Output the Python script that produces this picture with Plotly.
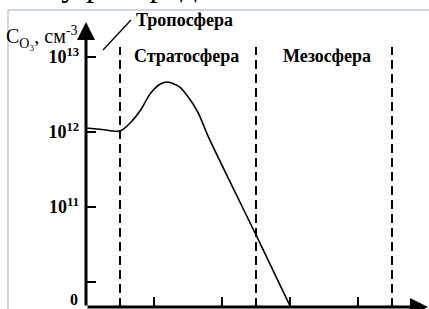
import plotly.graph_objects as go

# Altitude (km) and ozone concentration (cm^-3)
altitude_km = [0, 4, 10, 13, 16, 19, 22, 24, 27.5, 30.5, 33, 36, 50, 60]
ozone_cm3 = [1.13e12, 1.09e12, 1.03e12, 1.32e12, 1.95e12, 3.3e12, 4.4e12,
             4.65e12, 4.0e12, 2.75e12, 1.8e12, 8.6e11, 4.24e10, 4.8e9]

layer_bounds_km = [10, 50, 90]
y_tick_vals = [1e13, 1e12, 1e11, 1e10]
y_tick_text = ["<b>10<sup>13</sup></b>", "<b>10<sup>12</sup></b>", "<b>10<sup>11</sup></b>", ""]
x_tick_vals = [20, 40, 60, 80]
layer_names = ["Тропосфера", "Стратосфера", "Мезосфера"]

W, H = 429, 309
L, R, T, B = 86, 1, 22, 2
pw, ph = W - L - R, H - T - B

def px(x):
    return (x - L) / pw

def py(y):
    return (H - B - y) / ph

FONT = "Liberation Serif"

fig = go.Figure()
fig.add_trace(go.Scatter(x=altitude_km, y=ozone_cm3, mode="lines",
                         line=dict(color="black", width=1.6, shape="spline", smoothing=0.8),
                         hoverinfo="skip", showlegend=False))

shapes = []
for xb in layer_bounds_km:
    shapes.append(dict(type="line", xref="x", yref="paper", x0=xb, x1=xb, y0=0, y1=py(47),
                       line=dict(color="black", width=2, dash="9px,5px")))
# leader line to troposphere label
shapes.append(dict(type="line", xref="paper", yref="paper", x0=px(103), y0=py(50), x1=px(131), y1=py(20),
                   line=dict(color="black", width=1.3)))
# page borders
shapes.append(dict(type="line", xref="paper", yref="paper", x0=px(8), y0=py(10), x1=px(429), y1=py(10),
                   line=dict(color="#9fb0c6", width=1)))
shapes.append(dict(type="line", xref="paper", yref="paper", x0=px(8), y0=py(10), x1=px(8), y1=py(309),
                   line=dict(color="#9fb0c6", width=1)))

annotations = [
    # axes with arrows
    dict(xref="paper", yref="paper", x=0, y=1, ax=0, ay=ph, axref="pixel", ayref="pixel",
         showarrow=True, arrowhead=2, arrowsize=1.2, arrowwidth=3, arrowcolor="black", text=""),
    dict(xref="paper", yref="paper", x=px(428), y=0, ax=-(428 - L), ay=0,
         showarrow=True, arrowhead=2, arrowsize=1.2, arrowwidth=3, arrowcolor="black", text=""),
    dict(xref="paper", yref="paper", x=px(80), y=py(299), xanchor="right", yanchor="middle",
         text="<b>0</b>", showarrow=False, font=dict(family=FONT, size=16, color="black")),
    dict(xref="paper", yref="paper", x=px(4), y=py(37), xanchor="left", yanchor="middle",
         text="C<sub>O₃</sub>, см<sup>-3</sup>", showarrow=False,
         font=dict(family=FONT, size=20, color="black")),
    dict(xref="paper", yref="paper", x=px(134), y=py(20), xanchor="left", yanchor="middle",
         text="<b>" + layer_names[0] + "</b>", showarrow=False,
         font=dict(family=FONT, size=18, color="black")),
    dict(xref="paper", yref="paper", x=px(186), y=py(56), xanchor="center", yanchor="middle",
         text="<b>" + layer_names[1] + "</b>", showarrow=False,
         font=dict(family=FONT, size=18, color="black")),
    dict(xref="paper", yref="paper", x=px(327), y=py(56), xanchor="center", yanchor="middle",
         text="<b>" + layer_names[2] + "</b>", showarrow=False,
         font=dict(family=FONT, size=18, color="black")),
    dict(xref="paper", yref="paper", x=px(-6), y=py(5), xanchor="left", yanchor="bottom",
         text="нтику распределения озона в а", showarrow=False,
         font=dict(family=FONT, size=33, color="black")),
]

fig.update_layout(
    width=W, height=H, margin=dict(l=L, r=R, t=T, b=B),
    paper_bgcolor="white", plot_bgcolor="white",
    shapes=shapes, annotations=annotations, showlegend=False,
    xaxis=dict(range=[0, pw / 3.4], showgrid=False, zeroline=False, showline=False,
               tickmode="array", tickvals=x_tick_vals, ticks="inside", ticklen=10,
               tickwidth=1.5, tickcolor="black", showticklabels=False),
    yaxis=dict(type="log", range=[9.667, 13.467], showgrid=False, zeroline=False, showline=False,
               tickmode="array", tickvals=y_tick_vals, ticktext=y_tick_text,
               ticks="inside", ticklen=10, tickwidth=2, tickcolor="black",
               ticklabelstandoff=6,
               tickfont=dict(family=FONT, size=18, color="black"), automargin=False),
)

fig.write_html("out.html", config={"displayModeBar": False},
               post_script="document.body.style.margin='0';document.body.style.overflow='hidden';")
